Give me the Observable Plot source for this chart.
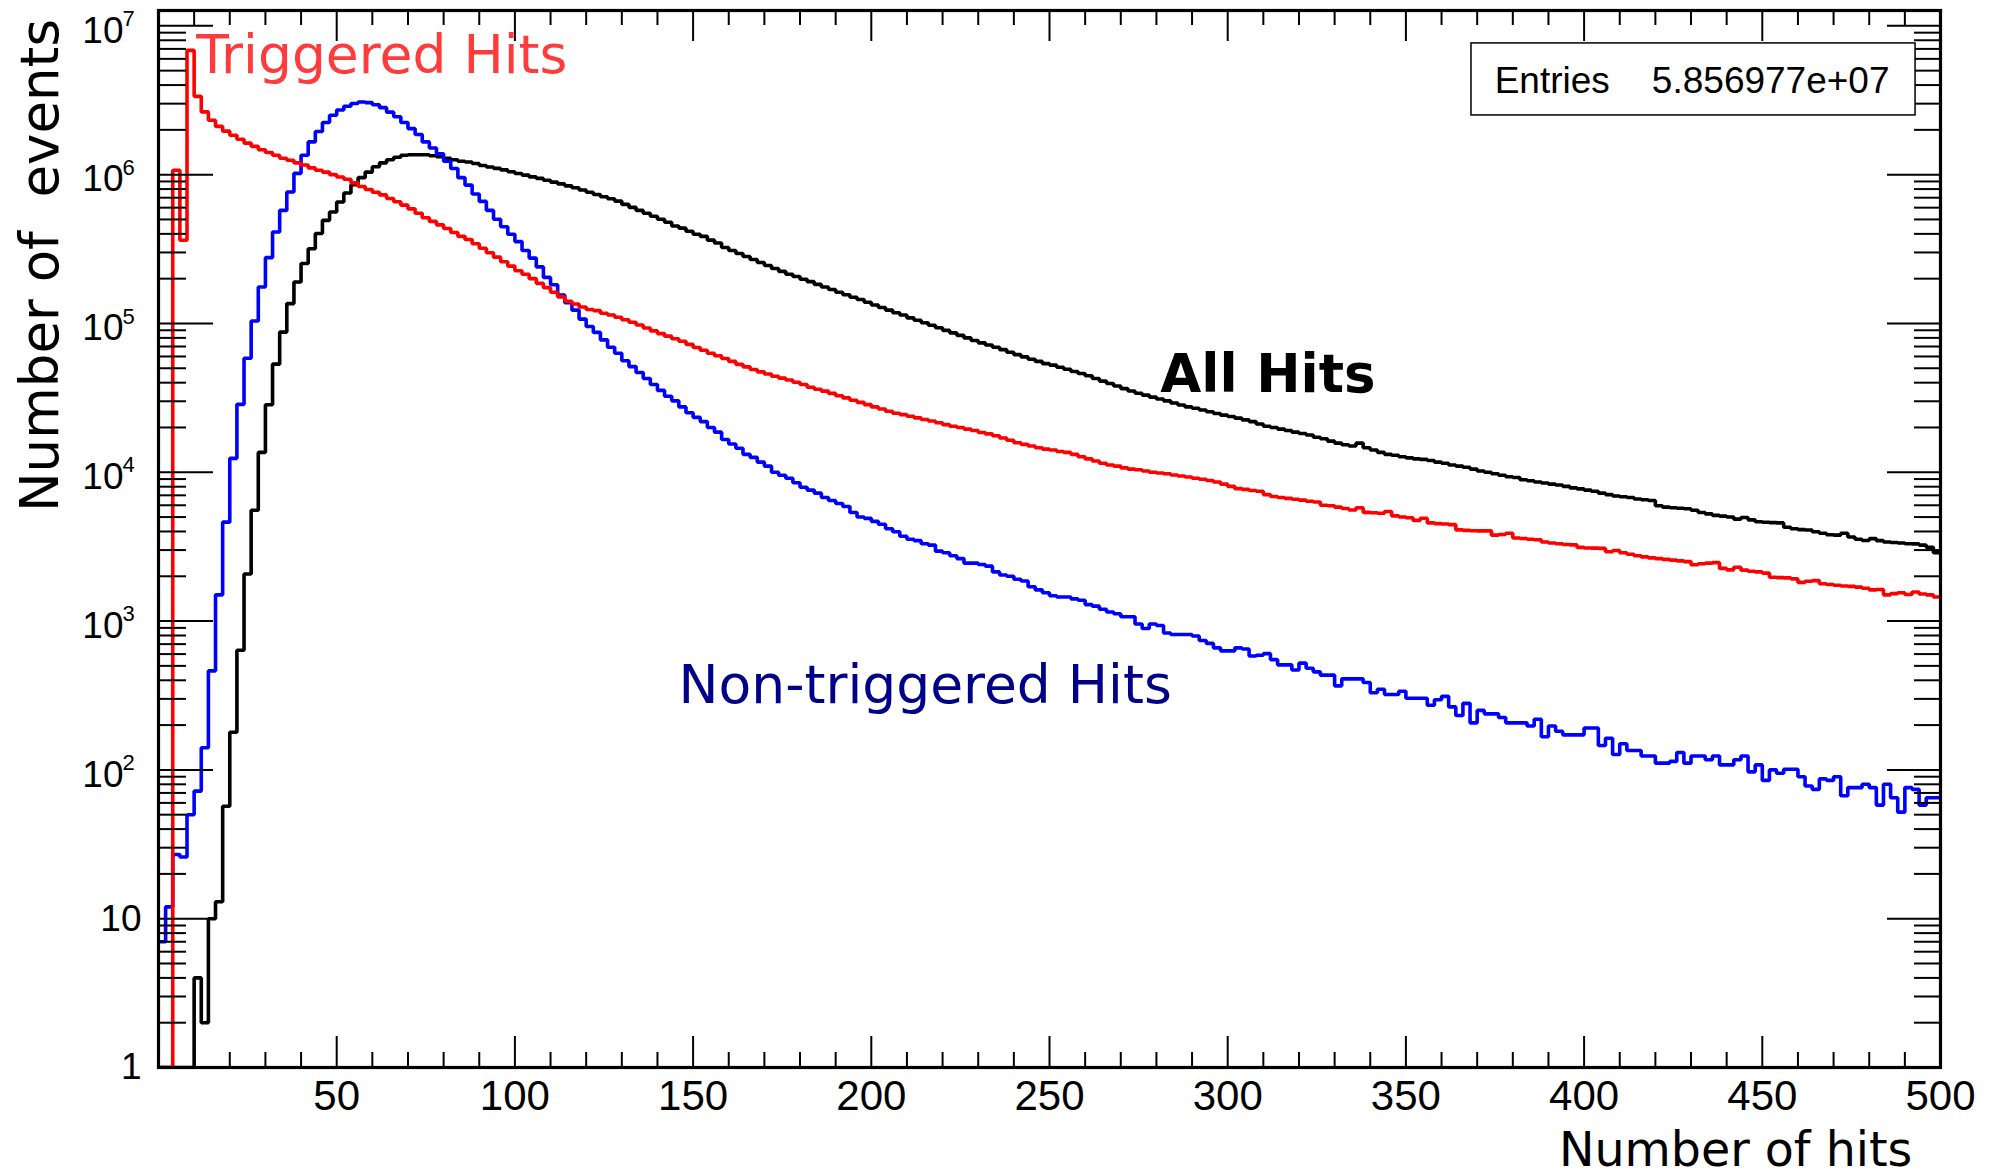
<!DOCTYPE html>
<html>
<head>
<meta charset="utf-8">
<script src="https://cdn.jsdelivr.net/npm/d3@7"></script>
<script src="https://cdn.jsdelivr.net/npm/@observablehq/plot@0.6"></script>
<style>
  html, body { margin: 0; padding: 0; background: #fff; }
  #chart svg { display: block; }
</style>
</head>
<body>
<div id="chart"></div>
<script>
// Hit-multiplicity histograms: 250 bins of width 2 over [0, 500).
const binWidth = 2;

const allHits = [
  0, 0, 0, 0, 0, 4, 2, 10, 13, 57,
  179, 637, 2070, 5550, 13600, 28400, 53300, 87500, 136000, 190000,
  253000, 318000, 402000, 493000, 561000, 655000, 753000, 857000, 955000, 1040000,
  1130000, 1200000, 1260000, 1310000, 1350000, 1360000, 1360000, 1360000, 1340000, 1320000,
  1290000, 1260000, 1230000, 1216000, 1189000, 1153000, 1127000, 1102000, 1076000, 1047000,
  1019000, 993000, 966000, 944000, 916000, 891000, 867000, 841000, 817000, 789000,
  762000, 736000, 711000, 689000, 664000, 631000, 603000, 575000, 550000, 525000,
  501000, 479000, 452000, 437000, 417000, 398000, 385000, 363000, 347000, 324000,
  309000, 295000, 282000, 269000, 257000, 245000, 234000, 224000, 214000, 207000,
  198000, 191000, 183000, 176000, 169000, 162000, 156000, 150000, 145000, 139000,
  133000, 128000, 123000, 118000, 114000, 109000, 105000, 101000, 97300, 93500,
  89900, 86500, 83200, 80000, 76900, 74100, 71600, 69200, 66700, 64100,
  61700, 59600, 57500, 55600, 53700, 52500, 50800, 49200, 47600, 46100,
  44500, 42700, 41000, 39500, 38000, 36500, 35200, 34000, 33000, 32000,
  31100, 30200, 29200, 28300, 27500, 26900, 26200, 25500, 24800, 24200,
  23700, 23100, 22500, 21900, 21100, 20400, 20000, 19500, 19100, 18600,
  18200, 17800, 17200, 16800, 16200, 15700, 15300, 15000, 15700, 14600,
  14100, 13600, 13200, 13000, 12700, 12500, 12300, 12200, 12000, 11700,
  11500, 11200, 11000, 10800, 10500, 10200, 10000, 9770, 9550, 9330,
  9230, 8910, 8770, 8610, 8470, 8320, 8220, 8040, 7850, 7730,
  7590, 7450, 7240, 7080, 6920, 6840, 6760, 6610, 6530, 6460,
  5960, 5830, 5780, 5730, 5690, 5560, 5370, 5250, 5130, 5070,
  5010, 4840, 4970, 4790, 4650, 4610, 4590, 4570, 4270, 4170,
  4120, 4090, 3980, 3890, 3800, 3780, 3890, 3670, 3550, 3480,
  3580, 3470, 3400, 3370, 3350, 3310, 3300, 3240, 3130, 2880
];

const triggeredHits = [
  0, 0, 1070000, 362000, 6840000, 3360000, 2640000, 2320000, 2110000, 1960000,
  1840000, 1730000, 1630000, 1550000, 1470000, 1410000, 1350000, 1290000, 1250000, 1200000,
  1160000, 1110000, 1070000, 1040000, 1000000, 964000, 931000, 881000, 832000, 794000,
  762000, 731000, 692000, 658000, 624000, 589000, 550000, 513000, 485000, 460000,
  435000, 409000, 385000, 367000, 343000, 320000, 299000, 279000, 260000, 243000,
  226000, 214000, 200000, 186000, 174000, 162000, 151000, 141000, 135000, 129000,
  124000, 122000, 117000, 114000, 110000, 106000, 102000, 97700, 93300, 89100,
  85500, 82200, 78900, 75900, 72400, 68900, 66100, 63100, 60700, 58200,
  55600, 53100, 51100, 49000, 47300, 45700, 44200, 42900, 41700, 40300,
  38900, 37300, 36100, 35100, 33900, 32700, 31600, 30500, 29500, 28500,
  27500, 26600, 25700, 24900, 24400, 23800, 23200, 22600, 22100, 21500,
  20900, 20400, 20000, 19500, 19100, 18500, 18100, 17600, 17000, 16400,
  15800, 15400, 15000, 14600, 14300, 14100, 13800, 13600, 13200, 12700,
  12300, 11900, 11500, 11200, 11000, 10700, 10500, 10400, 10200, 10000,
  9890, 9770, 9590, 9440, 9290, 9120, 8970, 8810, 8610, 8320,
  8040, 7760, 7670, 7550, 7450, 7080, 6870, 6760, 6680, 6580,
  6500, 6380, 6310, 6000, 5960, 5830, 5710, 5580, 5770, 5380,
  5350, 5300, 5450, 5090, 5010, 4950, 4750, 4910, 4570, 4520,
  4490, 4450, 4100, 4070, 4050, 4040, 4040, 3780, 3820, 3890,
  3620, 3590, 3550, 3520, 3400, 3350, 3310, 3270, 3250, 3130,
  3100, 3090, 3080, 2920, 2980, 2880, 2810, 2750, 2700, 2660,
  2630, 2600, 2570, 2540, 2510, 2390, 2430, 2450, 2470, 2260,
  2210, 2300, 2200, 2160, 2140, 2100, 1970, 1960, 1950, 1920,
  1820, 1850, 1870, 1780, 1760, 1740, 1720, 1710, 1690, 1660,
  1620, 1630, 1500, 1530, 1550, 1510, 1570, 1520, 1500, 1450
];

const nonTriggeredHits = [
  7, 12, 27, 26, 50, 72, 141, 463, 1500, 4620,
  12400, 28600, 58400, 104000, 176000, 277000, 412000, 575000, 764000, 1020000,
  1350000, 1660000, 1950000, 2240000, 2510000, 2720000, 2880000, 3010000, 3080000, 3050000,
  2950000, 2820000, 2630000, 2450000, 2240000, 2040000, 1860000, 1660000, 1510000, 1380000,
  1230000, 1100000, 955000, 851000, 741000, 661000, 575000, 501000, 447000, 398000,
  355000, 309000, 275000, 240000, 204000, 182000, 155000, 138000, 123000, 107000,
  95500, 87100, 77600, 69200, 63100, 56200, 51300, 46800, 42700, 38900,
  35500, 32400, 30200, 27500, 25100, 23400, 21900, 20000, 18600, 16600,
  15500, 14500, 13200, 12600, 11700, 11000, 10000, 9550, 9120, 8510,
  7940, 7590, 7240, 6760, 6460, 6170, 5890, 5370, 5010, 4900,
  4680, 4470, 4170, 3980, 3720, 3550, 3470, 3310, 3240, 2950,
  2880, 2750, 2630, 2450, 2450, 2400, 2340, 2140, 2040, 2000,
  1910, 1860, 1700, 1620, 1550, 1480, 1450, 1450, 1410, 1380,
  1290, 1260, 1200, 1150, 1120, 1070, 1070, 955, 891, 955,
  933, 832, 813, 813, 813, 794, 741, 708, 661, 631,
  631, 661, 649, 582, 589, 604, 551, 508, 508, 469,
  522, 482, 456, 433, 433, 367, 409, 409, 409, 387,
  330, 348, 321, 321, 338, 303, 303, 303, 272, 296,
  312, 265, 232, 280, 207, 251, 238, 238, 225, 207,
  207, 207, 197, 219, 167, 197, 182, 172, 172, 172,
  191, 191, 146, 163, 127, 150, 135, 135, 124, 124,
  111, 111, 114, 131, 111, 124, 124, 117, 124, 108,
  108, 117, 124, 97, 108, 85, 100, 95, 101, 101,
  90, 78, 74, 87, 85, 90, 67, 76, 76, 80,
  76, 58, 80, 65, 52, 76, 74, 58, 65, 65
];

// Axis ticks and labels
const xMajorTicks = [50, 100, 150, 200, 250, 300, 350, 400, 450, 500];
const xMinorTicks = d3.range(10, 500, 10).filter(v => v % 50 !== 0);
const yPlainLabels = [1, 10];
const yPowerExponents = [2, 3, 4, 5, 6, 7];
const yDecades = [1, 10, 1e2, 1e3, 1e4, 1e5, 1e6, 1e7];
const yTop = 1.268e7;
const yMinorTicks = yDecades.flatMap(d => d3.range(2, 10).map(m => m * d)).filter(v => v < yTop);

const xTitle = "Number of hits";
const yTitle = "Number of\u00a0 events";
const entriesName = "Entries";
const entriesValue = "5.856977e+07";

// Layout
const W = 1995, H = 1175;
const mL = 158, mR = 55, mT = 10, mB = 108;
const frameW = W - mL - mR, frameH = H - mT - mB;

const labelFont = "'Liberation Sans', Arial, Helvetica, sans-serif";
const titleFont = "'DejaVu Sans', Verdana, sans-serif";

// Step outline of a histogram: one vertex per bin low edge, closed at the upper edge.
function outline(values) {
  const pts = values.map((v, i) => ({x: i * binWidth, y: v}));
  pts.push({x: values.length * binWidth, y: values[values.length - 1]});
  return pts;
}
const floorY = v => Math.max(v, 1);

function histLine(values, color) {
  return Plot.line(outline(values), {
    x: "x", y: d => floorY(d.y), curve: "step-after",
    stroke: color, strokeWidth: 3.6, strokeLinejoin: "miter", clip: true
  });
}

const chart = Plot.plot({
  width: W, height: H,
  marginLeft: mL, marginRight: mR, marginTop: mT, marginBottom: mB,
  style: {fontFamily: labelFont, background: "white", overflow: "visible"},
  x: {domain: [0, 500], axis: null},
  y: {type: "log", domain: [1, yTop], axis: null},
  marks: [
    histLine(allHits, "#000000"),
    histLine(nonTriggeredHits, "#0000ff"),
    histLine(triggeredHits, "#ff0000"),

    // Ticks drawn inward on all four sides of the frame
    Plot.ruleX(xMajorTicks, {x: d => d, insetTop: frameH - 31, stroke: "black", strokeWidth: 2}),
    Plot.ruleX(xMinorTicks, {x: d => d, insetTop: frameH - 15, stroke: "black", strokeWidth: 2}),
    Plot.ruleX(xMajorTicks, {x: d => d, insetBottom: frameH - 31, stroke: "black", strokeWidth: 2}),
    Plot.ruleX(xMinorTicks, {x: d => d, insetBottom: frameH - 15, stroke: "black", strokeWidth: 2}),
    Plot.ruleY(yDecades, {y: d => d, insetRight: frameW - 55, stroke: "black", strokeWidth: 2}),
    Plot.ruleY(yMinorTicks, {y: d => d, insetRight: frameW - 28, stroke: "black", strokeWidth: 2}),
    Plot.ruleY(yDecades, {y: d => d, insetLeft: frameW - 53, stroke: "black", strokeWidth: 2}),
    Plot.ruleY(yMinorTicks, {y: d => d, insetLeft: frameW - 26, stroke: "black", strokeWidth: 2}),

    Plot.frame({stroke: "black", strokeWidth: 3.2}),

    // Tick labels
    Plot.text(xMajorTicks, {
      x: d => d, frameAnchor: "bottom", dy: 29, text: d => String(d),
      fontSize: 42, fill: "black", textAnchor: "middle", lineAnchor: "middle"
    }),
    Plot.text(yPlainLabels, {
      y: d => d, frameAnchor: "left", dx: -17, text: d => String(d),
      fontSize: 37, fill: "black", textAnchor: "end", lineAnchor: "middle"
    }),
    Plot.text(yPowerExponents, {
      y: d => 10 ** d, frameAnchor: "left", dx: -35, dy: 5, text: () => "10",
      fontSize: 37, fill: "black", textAnchor: "end", lineAnchor: "middle"
    }),
    Plot.text(yPowerExponents, {
      y: d => 10 ** d, frameAnchor: "left", dx: -36, dy: -7, text: d => String(d),
      fontSize: 22, fill: "black", textAnchor: "start", lineAnchor: "middle"
    }),

    // Axis titles
    Plot.text([xTitle], {
      x: () => 492.1, frameAnchor: "bottom", dy: 98, text: d => d,
      fontFamily: titleFont, fontSize: 47.5, fill: "black", textAnchor: "end", lineAnchor: "bottom"
    }),
    Plot.text([yTitle], {
      y: () => 2.45e5, frameAnchor: "left", dx: -101, rotate: -90, text: d => d,
      fontFamily: titleFont, fontSize: 53, fill: "black", textAnchor: "middle", lineAnchor: "bottom"
    }),

    // Curve annotations
    Plot.text(["Triggered Hits"], {
      x: () => 10.6, y: () => 4.79e6, text: d => d,
      fontFamily: titleFont, fontSize: 53.5, fill: "#ff3b3b", textAnchor: "start", lineAnchor: "bottom"
    }),
    Plot.text(["Non-triggered Hits"], {
      x: () => 145.9, y: () => 281, text: d => d,
      fontFamily: titleFont, fontSize: 53.5, fill: "#000088", textAnchor: "start", lineAnchor: "bottom"
    }),
    Plot.text(["All Hits"], {
      x: () => 281.1, y: () => 34500, text: d => d,
      fontFamily: titleFont, fontWeight: "bold", fontSize: 53, fill: "black", textAnchor: "start", lineAnchor: "bottom"
    }),

    // Statistics box
    Plot.rect([0], {
      x1: () => 368.4, x2: () => 493, y1: () => 2.5e6, y2: () => 7.62e6,
      fill: "white", stroke: "black", strokeWidth: 1.5
    }),
    Plot.text([entriesName], {
      x: () => 374.9, y: () => 3.56e6, text: d => d,
      fontSize: 37, fill: "black", textAnchor: "start", lineAnchor: "bottom"
    }),
    Plot.text([entriesValue], {
      x: () => 485.7, y: () => 3.56e6, text: d => d,
      fontSize: 37, fill: "black", textAnchor: "end", lineAnchor: "bottom"
    })
  ]
});

document.getElementById("chart").appendChild(chart);
</script>
</body>
</html>
